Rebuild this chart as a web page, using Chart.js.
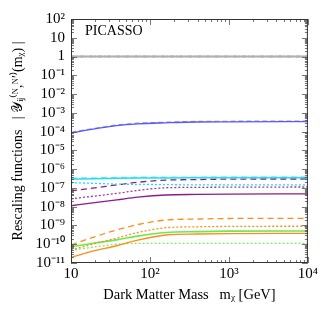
<!DOCTYPE html>
<html>
<head>
    <title>PICASSO rescaling functions</title>
    <script src="https://cdn.jsdelivr.net/npm/chart.js"></script>
    <style>
        body { margin: 0; background: #fff; }
        .chart-container { width: 320px; height: 314px; }
    </style>
</head>
<body>
    <div class="chart-container">
        <canvas id="rescalingChart"></canvas>
    </div>

    <script>
        // dark matter masses (GeV)
        const masses = [10, 20, 38, 70, 160, 400, 1000, 10000];

        // values
        const grayOne = [1, 1, 1, 1, 1, 1, 1, 1];
        const blueSolid = [8.5e-5, 1.4e-4, 2.1e-4, 2.6e-4, 2.95e-4, 3.25e-4, 3.3e-4, 3.4e-4];
        const blueDashed = [9.2e-5, 1.5e-4, 2.25e-4, 2.8e-4, 3.15e-4, 3.5e-4, 3.55e-4, 3.65e-4];
        const cyanSolid = [3.0e-7, 3.1e-7, 3.25e-7, 3.35e-7, 3.4e-7, 3.45e-7, 3.5e-7, 3.5e-7];
        const cyanDashed = [3.3e-7, 3.4e-7, 3.55e-7, 3.65e-7, 3.7e-7, 3.75e-7, 3.8e-7, 3.8e-7];
        const cyanDotted = [1.9e-7, 1.75e-7, 1.6e-7, 1.55e-7, 1.5e-7, 1.45e-7, 1.45e-7, 1.45e-7];
        const purpleDashed = [6.9e-8, 1.0e-7, 1.45e-7, 2.0e-7, 2.6e-7, 2.8e-7, 2.95e-7, 3.0e-7];
        const purpleDotted = [2.6e-8, 3.7e-8, 5.1e-8, 7.4e-8, 1.02e-7, 1.07e-7, 1.1e-7, 1.12e-7];
        const purpleSolid = [1.12e-8, 1.66e-8, 2.3e-8, 3.2e-8, 4.2e-8, 4.5e-8, 4.7e-8, 4.8e-8];
        const orangeDashed = [9.1e-11, 2.5e-10, 5.8e-10, 1.12e-9, 1.95e-9, 2.2e-9, 2.35e-9, 2.4e-9];
        const orangeDotted = [4.9e-11, 1.07e-10, 2.1e-10, 4.2e-10, 7.6e-10, 8.5e-10, 8.9e-10, 9.1e-10];
        const greenSolid = [7.4e-11, 1.17e-10, 1.7e-10, 2.7e-10, 4.2e-10, 4.7e-10, 5.0e-10, 5.1e-10];
        const orangeSolid = [2.0e-11, 4.5e-11, 8.3e-11, 1.66e-10, 3.1e-10, 3.5e-10, 3.7e-10, 3.8e-10];
        const greenDotted = [4.7e-11, 7.2e-11, 1.0e-10, 1.1e-10, 1.12e-10, 1.1e-10, 1.1e-10, 1.1e-10];

        // tick labels
        const xTickValues = [10, 100, 1000, 10000];
        const xTickLabels = ['10', '10²', '10³', '10⁴'];
        const yTickValues = [1e-11, 1e-10, 1e-9, 1e-8, 1e-7, 1e-6, 1e-5, 1e-4, 1e-3, 1e-2, 1e-1, 1, 10, 100];
        const yTickLabels = ['10⁻¹¹', '10⁻¹⁰', '10⁻⁹', '10⁻⁸', '10⁻⁷', '10⁻⁶', '10⁻⁵', '10⁻⁴', '10⁻³', '10⁻²', '10⁻¹', '1', '10', '10²'];

        const serif = 'Liberation Serif';

        function series(values, color, dash, width) {
            return {
                data: masses.map((m, i) => ({x: m, y: values[i]})),
                borderColor: color,
                borderDash: dash,
                borderWidth: width || 1.3,
                pointRadius: 0,
                cubicInterpolationMode: 'monotone',
                fill: false
            };
        }

        // inward minor/major ticks on all four sides, plus the frame and the experiment label
        const framePlugin = {
            id: 'frame',
            afterDatasetsDraw(chart) {
                const {ctx, chartArea: a, scales} = chart;
                ctx.save();
                ctx.strokeStyle = '#555';
                ctx.lineWidth = 0.8;
                ctx.beginPath();
                for (let e = 1; e <= 4; e++) {
                    for (let k = 1; k <= 9; k++) {
                        const v = k * Math.pow(10, e);
                        if (v > 10000 || v < 10) continue;
                        const px = Math.round(scales.x.getPixelForValue(v)) + 0.5;
                        const len = k === 1 ? 6 : 3;
                        ctx.moveTo(px, a.bottom); ctx.lineTo(px, a.bottom - len);
                        ctx.moveTo(px, a.top); ctx.lineTo(px, a.top + len);
                    }
                }
                for (let e = -11; e <= 2; e++) {
                    for (let k = 1; k <= 9; k++) {
                        const v = k * Math.pow(10, e);
                        if (v > 100) continue;
                        const py = Math.round(scales.y.getPixelForValue(v)) + 0.5;
                        const len = k === 1 ? 6 : 3;
                        ctx.moveTo(a.left, py); ctx.lineTo(a.left + len, py);
                        ctx.moveTo(a.right, py); ctx.lineTo(a.right - len, py);
                    }
                }
                ctx.stroke();
                ctx.strokeStyle = '#333';
                ctx.lineWidth = 1;
                ctx.strokeRect(a.left + 0.5, a.top + 0.5, a.right - a.left - 1, a.bottom - a.top - 1);
                ctx.fillStyle = '#000';
                ctx.font = '14px "' + serif + '"';
                ctx.textBaseline = 'middle';
                ctx.fillText('PICASSO', a.left + 14, a.top + 12);
                ctx.restore();
            }
        };

        new Chart(document.getElementById('rescalingChart'), {
            type: 'line',
            data: {
                datasets: [
                    series(grayOne, '#b0b0b0', [], 2),
                    series(grayOne, '#555', [4, 2, 1, 2], 1.4),
                    series(blueSolid, '#5b5bf0', []),
                    series(blueDashed, '#9090ff', [5, 3]),
                    series(cyanSolid, '#22dded', [], 1.5),
                    series(cyanDashed, '#66eef8', [6, 4], 1.5),
                    series(cyanDotted, '#22dded', [2, 2]),
                    series(purpleDashed, '#8a1c8a', [6, 4]),
                    series(purpleDotted, '#9a3aa0', [2, 2]),
                    series(purpleSolid, '#8a1c8a', []),
                    series(orangeDashed, '#ff8c1a', [6, 4]),
                    series(orangeDotted, '#ff8c1a', [2, 2]),
                    series(greenSolid, '#6aea50', [], 1.6),
                    series(orangeSolid, '#ff8c1a', []),
                    series(greenDotted, '#7aee60', [2, 2])
                ]
            },
            options: {
                responsive: true,
                maintainAspectRatio: false,
                animation: false,
                layout: { padding: { top: 19, right: 7, left: 0, bottom: 0 } },
                plugins: {
                    legend: { display: false },
                    tooltip: { enabled: false }
                },
                scales: {
                    x: {
                        type: 'logarithmic',
                        min: 10,
                        max: 10000,
                        afterBuildTicks: s => { s.ticks = xTickValues.map(v => ({value: v})); },
                        afterFit: s => { s.height = 51; },
                        grid: { display: false, drawTicks: false },
                        border: { display: false },
                        ticks: {
                            autoSkip: false,
                            maxRotation: 0,
                            padding: 2,
                            color: '#000',
                            font: { family: serif, size: 15 },
                            callback: (v, i) => xTickLabels[i]
                        },
                        title: {
                            display: true,
                            text: 'Dark Matter Mass   mᵪ [GeV]',
                            color: '#000',
                            font: { family: serif, size: 14.5 },
                            padding: { top: 0, bottom: 10 }
                        }
                    },
                    y: {
                        type: 'logarithmic',
                        min: 1e-11,
                        max: 100,
                        afterBuildTicks: s => { s.ticks = yTickValues.map(v => ({value: v})); },
                        afterFit: s => { s.width = 71; },
                        grid: { display: false, drawTicks: false },
                        border: { display: false },
                        ticks: {
                            autoSkip: false,
                            padding: 6,
                            color: '#000',
                            font: { family: serif, size: 15 },
                            callback: (v, i) => yTickLabels[i]
                        },
                        title: {
                            display: true,
                            text: 'Rescaling functions   | 𝒴ᵢⱼ⁽ᴺ,ᴺ′⁾(mᵪ) |',
                            color: '#000',
                            font: { family: serif, size: 14 },
                            padding: { top: 10, bottom: 0 }
                        }
                    }
                }
            },
            plugins: [framePlugin]
        });
    </script>
</body>
</html>
